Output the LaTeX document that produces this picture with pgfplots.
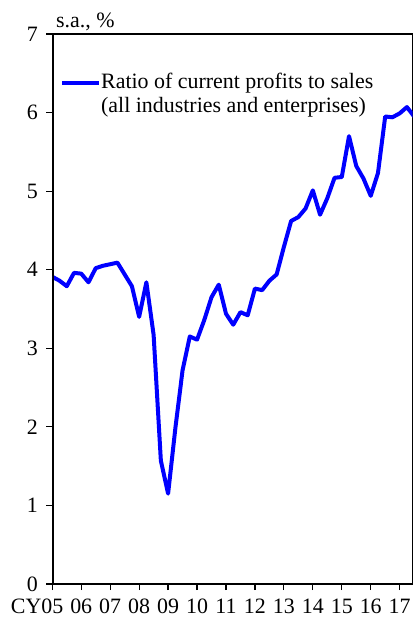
\documentclass[border=0pt]{standalone}
\usepackage{pgfplots}
\pgfplotsset{compat=1.18}
\usepackage{fontspec}
\setmainfont{Liberation Serif}
\definecolor{lineblue}{RGB}{0,0,255}
\begin{document}
\fontsize{22}{25}\selectfont
\begin{tikzpicture}
\begin{axis}[
  at={(0,0)}, anchor=south west,
  scale only axis, width=360.4bp, height=550bp,
  xmin=0, xmax=49.8, ymin=0, ymax=7,
  axis line style={line width=1.2bp, black},
  xtick={0,4,8,12,16,20,24,28,32,36,40,44,48},
  xticklabels={\llap{CY}05,06,07,08,09,10,11,12,13,14,15,16,17},
  ytick={0,1,2,3,4,5,6,7},
  tick align=outside,
  xtick pos=bottom, ytick pos=left,
  major tick length=6bp,
  tick style={line width=1.2bp, black},
  ticklabel style={font=\fontsize{22}{25}\selectfont},
  /pgf/number format/assume math mode=true,
  xticklabel style={yshift=-7.5bp, inner ysep=1bp, text depth=0pt},
  yticklabel style={xshift=-1bp},
  clip=true,
]
\addplot[line width=4bp, color=lineblue, line join=round] coordinates {
(0,3.91) (1,3.86) (2,3.79) (3,3.96) (4,3.95) (5,3.84) (6,4.02) (7,4.05)
(8,4.07) (9,4.09) (10,3.94) (11,3.79) (12,3.40) (13,3.84) (14,3.17) (15,1.57)
(16,1.15) (17,1.98) (18,2.72) (19,3.15) (20,3.11) (21,3.36) (22,3.65) (23,3.81)
(24,3.44) (25,3.30) (26,3.46) (27,3.42) (28,3.76) (29,3.74) (30,3.86) (31,3.94)
(32,4.29) (33,4.62) (34,4.67) (35,4.78) (36,5.01) (37,4.70) (38,4.91) (39,5.17)
(40,5.18) (41,5.70) (42,5.32) (43,5.16) (44,4.94) (45,5.23) (46,5.95) (47,5.94)
(48,5.99) (49,6.07) (50,5.95)
};
\draw[line width=2.6bp, black] (rel axis cs:0,1) -- (rel axis cs:0,0) -- (rel axis cs:1,0);
\draw[line width=4bp, lineblue] (rel axis cs:0.027,0.9115) -- (rel axis cs:0.1296,0.9115);
\node[anchor=base west, inner sep=0pt] at (rel axis cs:0.1351,0.9018) {Ratio of current profits to sales};
\node[anchor=base west, inner sep=0pt] at (rel axis cs:0.1351,0.8564) {(all industries and enterprises)};
\end{axis}
\node[anchor=base west, inner sep=0pt] at (3.7bp,556.3bp) {s.a., \%};
\pgfresetboundingbox
\path[use as bounding box] (-52.3bp,-33bp) rectangle (361.7bp,584bp);
\end{tikzpicture}
\end{document}
